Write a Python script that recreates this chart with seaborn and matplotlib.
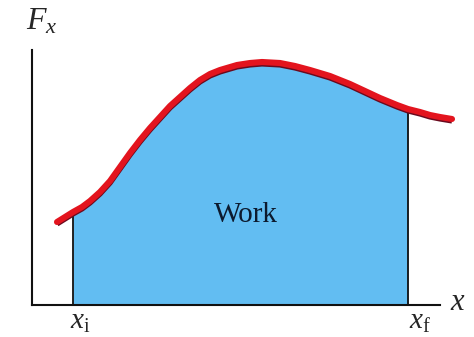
import numpy as np
import pandas as pd
import matplotlib.pyplot as plt
import seaborn as sns

x_pos = [25, 33, 41, 50, 58, 68, 78, 88, 98, 108, 118, 128, 138, 148, 158,
         168, 178, 188, 205, 218, 230, 248, 263, 278, 298, 318, 333, 348,
         365, 376, 388, 398, 408, 420]
force = [83, 88, 93, 98, 104, 113, 124, 138, 152, 165, 177, 188, 199, 208, 217,
         225, 231, 235, 240, 242, 243, 242, 239, 235, 229, 221, 214, 207,
         200, 196, 193, 190, 188, 186]
x_i = 41
x_f = 376

sns.set_theme(style="white")
plt.rcParams['mathtext.fontset'] = 'custom'
plt.rcParams['mathtext.rm'] = 'Liberation Serif'
plt.rcParams['mathtext.it'] = 'Liberation Serif:italic'
plt.rcParams['font.family'] = ['Liberation Serif', 'DejaVu Serif']

df = pd.DataFrame({'x': x_pos, 'F': force})

fig = plt.figure(figsize=(4.74, 3.37), dpi=100)
ax = fig.add_axes([32 / 474, 32 / 337, 408 / 474, 255 / 337])

# shaded work area between x_i and x_f
part = df[(df['x'] >= x_i) & (df['x'] <= x_f)]
ax.fill_between(part['x'], 0, part['F'], color='#62bdf2', lw=0, zorder=1)

f_i = df.loc[df['x'] == x_i, 'F'].iloc[0]
f_f = df.loc[df['x'] == x_f, 'F'].iloc[0]
ax.vlines([x_i, x_f], 0, [f_i, f_f], color='#111111', lw=1.3, zorder=2)

# dark rim under the red curve
ax.plot(df['x'], df['F'] - 1.8, color='#6a0a1e', lw=4, zorder=3,
        solid_capstyle='butt', solid_joinstyle='round', clip_on=False)
sns.lineplot(data=df, x='x', y='F', color='#e3141e', lw=4.4, ax=ax,
             zorder=4, clip_on=False, sort=False)
ax.lines[-1].set_solid_joinstyle('round')

ax.set_xlim(0, 408)
ax.set_ylim(0, 255)
ax.set_xticks([])
ax.set_yticks([])
ax.set_xlabel('')
ax.set_ylabel('')
for side in ['top', 'right']:
    ax.spines[side].set_visible(False)
for side in ['left', 'bottom']:
    ax.spines[side].set_color('#111111')
    ax.spines[side].set_linewidth(1.5)

ax.text(214, 90, 'Work', fontsize=21, color='#0c1a2e', ha='center', va='center')

ax.text(10, 268, r'$F_x$', fontsize=23, ha='center', va='bottom', clip_on=False)
ax.text(426, 2, r'$x$', fontsize=22, ha='center', va='center', clip_on=False)
ax.text(x_i + 7, -4, r'$x_{\mathrm{i}}$', fontsize=21, ha='center', va='top', clip_on=False)
ax.text(x_f + 12, -4, r'$x_{\mathrm{f}}$', fontsize=21, ha='center', va='top', clip_on=False)

fig.savefig('out.png', dpi=100)
